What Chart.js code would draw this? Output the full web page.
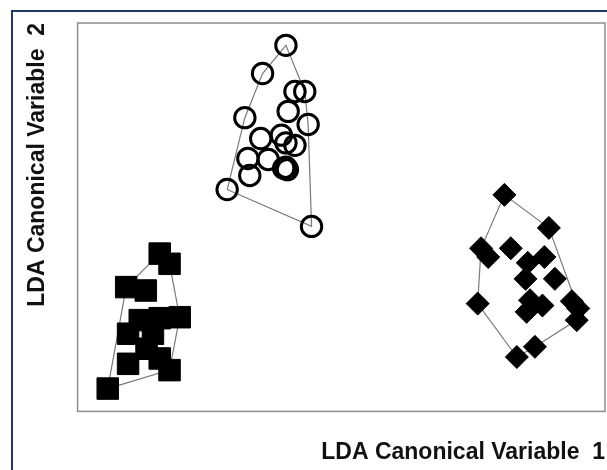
<!DOCTYPE html>
<html>
<head>
<meta charset="utf-8">
<script src="https://cdn.jsdelivr.net/npm/chart.js@4"></script>
<style>
  html, body { margin: 0; padding: 0; background: #fff; overflow: hidden; }
  #wrap { position: relative; width: 607px; height: 470px; }
</style>
</head>
<body>
<div id="wrap"><canvas id="ldaChart"></canvas></div>
<script>
// Group 1 (open circles)
const circleX = [-0.47, -1.09, -0.23, 0.03, -0.41, -1.56, 0.12, -0.59, -1.14, -0.47, -0.23, -1.48, -0.94, -0.47, -0.43, -0.53, -1.43, -2.03, 0.21];
const circleY = [3.54, 2.96, 2.59, 2.59, 2.18, 2.05, 1.91, 1.69, 1.62, 1.53, 1.48, 1.21, 1.19, 1.03, 0.98, 1.01, 0.86, 0.57, -0.19];

// Group 2 (filled squares)
const squareX = [-3.82, -3.56, -4.71, -4.19, -3.29, -4.35, -3.82, -4.66, -4.00, -4.17, -4.66, -3.82, -3.56, -5.20];
const squareY = [-0.75, -0.96, -1.44, -1.51, -2.06, -2.12, -2.08, -2.40, -2.40, -2.71, -3.02, -2.91, -3.15, -3.53];

// Group 3 (filled diamonds)
const diamondX = [5.33, 6.51, 4.71, 4.90, 5.50, 6.39, 5.95, 5.89, 6.67, 4.62, 6.01, 6.34, 5.92, 7.12, 7.29, 7.25, 6.14, 5.66];
const diamondY = [0.46, -0.22, -0.64, -0.82, -0.64, -0.82, -0.94, -1.27, -1.27, -1.78, -1.71, -1.82, -1.95, -1.73, -1.88, -2.12, -2.67, -2.88];

const xTitle = 'LDA Canonical Variable  1';
const yTitle = 'LDA Canonical Variable  2';

function toPoints(xs, ys) {
    return xs.map((x, i) => ({ x: x, y: ys[i] }));
}

// convex hull (monotone chain), closed for drawing
function hull(pts) {
    const p = pts.slice().sort((a, b) => a.x - b.x || a.y - b.y);
    const cross = (o, a, b) => (a.x - o.x) * (b.y - o.y) - (a.y - o.y) * (b.x - o.x);
    const lower = [];
    for (const q of p) {
        while (lower.length >= 2 && cross(lower[lower.length - 2], lower[lower.length - 1], q) <= 0) lower.pop();
        lower.push(q);
    }
    const upper = [];
    for (let i = p.length - 1; i >= 0; i--) {
        const q = p[i];
        while (upper.length >= 2 && cross(upper[upper.length - 2], upper[upper.length - 1], q) <= 0) upper.pop();
        upper.push(q);
    }
    upper.pop();
    lower.pop();
    const h = lower.concat(upper);
    h.push(h[0]);
    return h;
}

const circles = toPoints(circleX, circleY);
const squares = toPoints(squareX, squareY);
const diamonds = toPoints(diamondX, diamondY);

function hullSet(pts) {
    return {
        data: hull(pts),
        showLine: true,
        borderColor: '#7a7a7a',
        borderWidth: 1.2,
        pointRadius: 0,
        fill: false,
        order: 2
    };
}

// frame + plot box
const boxPlugin = {
    id: 'boxPlugin',
    beforeDatasetsDraw(chart) {
        const { ctx, chartArea: a } = chart;
        ctx.save();
        ctx.strokeStyle = '#1f3864';
        ctx.lineWidth = 2;
        ctx.beginPath();
        ctx.moveTo(12, chart.height);
        ctx.lineTo(12, 11);
        ctx.lineTo(chart.width, 11);
        ctx.stroke();
        ctx.strokeStyle = '#8c8c8c';
        ctx.lineWidth = 1.5;
        ctx.strokeRect(a.left, a.top, a.right - a.left, a.bottom - a.top);
        ctx.restore();
    }
};

const titleFont = { family: "'Liberation Sans', Arial, sans-serif", size: 23, weight: 'bold' };

new Chart(document.getElementById('ldaChart'), {
    type: 'scatter',
    data: {
        datasets: [
            {
                data: circles,
                pointStyle: 'circle',
                pointRadius: 10.2,
                borderColor: '#000',
                borderWidth: 3,
                backgroundColor: 'rgba(0,0,0,0)',
                order: 1
            },
            {
                data: squares,
                pointStyle: 'rect',
                pointRadius: 15.2,
                borderColor: '#000',
                borderWidth: 1,
                backgroundColor: '#000',
                order: 1
            },
            {
                data: diamonds,
                pointStyle: 'rectRot',
                pointRadius: 11.5,
                borderColor: '#000',
                borderWidth: 1,
                backgroundColor: '#000',
                order: 1
            },
            hullSet(circles),
            hullSet(squares),
            hullSet(diamonds)
        ]
    },
    options: {
        responsive: true,
        maintainAspectRatio: false,
        animation: false,
        layout: { autoPadding: false, padding: { top: 23, right: 2, bottom: 0, left: 0 } },
        plugins: {
            legend: { display: false },
            tooltip: { enabled: false }
        },
        scales: {
            x: {
                min: -6,
                max: 8,
                grid: { display: false, drawTicks: false },
                border: { display: false },
                ticks: { display: false },
                title: {
                    display: true,
                    text: xTitle,
                    align: 'end',
                    color: '#111',
                    font: titleFont,
                    padding: { top: 27, bottom: 4 }
                }
            },
            y: {
                min: -4,
                max: 4,
                grid: { display: false, drawTicks: false },
                border: { display: false },
                ticks: { display: false },
                title: {
                    display: true,
                    text: yTitle,
                    align: 'end',
                    color: '#111',
                    font: titleFont,
                    padding: { top: 24, bottom: 26 }
                }
            }
        }
    },
    plugins: [boxPlugin]
});
</script>
</body>
</html>
